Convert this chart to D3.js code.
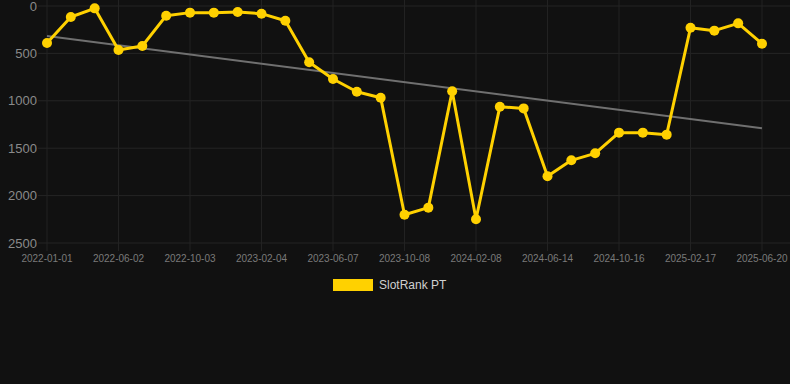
<!DOCTYPE html>
<html><head><meta charset="utf-8">
<script src="https://cdn.jsdelivr.net/npm/d3@7"></script>
<style>html,body{margin:0;padding:0;background:#111111;}svg{display:block;}</style>
</head><body><svg id="c" width="790" height="384"></svg>
<script>
const categories = ["2022-01-01","2022-02-20","2022-04-12","2022-06-02","2022-07-13","2022-08-23","2022-10-03","2022-11-12","2022-12-24","2023-02-04","2023-03-16","2023-04-26","2023-06-07","2023-07-18","2023-08-28","2023-10-08","2023-11-18","2023-12-29","2024-02-08","2024-03-22","2024-05-03","2024-06-14","2024-07-25","2024-09-04","2024-10-16","2024-11-26","2025-01-06","2025-02-17","2025-03-30","2025-05-10","2025-06-20"];
const rankValues = [390,116,25,464,422,102,70,70,63,81,155,594,770,904,967,2202,2127,900,2250,1062,1080,1796,1628,1554,1336,1336,1357,229,260,183,398];
const yTicks = [0,500,1000,1500,2000,2500];
const seriesName = "SlotRank PT";

(function () {
const svg = d3.select("#c");
const pl = 47, pr = 762, pt = 6, pb = 243;
const x = d3.scalePoint().domain(categories).range([pl, pr]);
const y = d3.scaleLinear().domain([0, 2500]).range([pt, pb]);

// grid
const g = svg.append("g");
g.selectAll("line.h").data(yTicks).join("line")
  .attr("x1", 38).attr("x2", 790).attr("y1", d => y(d)).attr("y2", d => y(d))
  .attr("stroke", "#252525").attr("stroke-width", 1);
const shown = categories.filter((d, i) => i % 3 === 0);
g.selectAll("line.v").data(shown).join("line")
  .attr("x1", d => x(d)).attr("x2", d => x(d)).attr("y1", 0).attr("y2", 251)
  .attr("stroke", "#222222").attr("stroke-width", 1);

// y labels
svg.append("g").selectAll("text").data(yTicks).join("text")
  .attr("x", 37).attr("y", d => y(d)).attr("dy", "0.35em")
  .attr("text-anchor", "end").attr("fill", "#8a8a8a")
  .style("font", "13px 'Liberation Sans', Arial, sans-serif").text(d => d);

// x labels
svg.append("g").selectAll("text").data(shown).join("text")
  .attr("x", d => x(d)).attr("y", 262)
  .attr("text-anchor", "middle").attr("fill", "#7a7a7a")
  .style("font", "10px 'Liberation Sans', Arial, sans-serif").text(d => d);

// trend (least squares)
const n = rankValues.length;
const mi = (n - 1) / 2, mv = d3.mean(rankValues);
let sxy = 0, sxx = 0;
rankValues.forEach((v, i) => { sxy += (i - mi) * (v - mv); sxx += (i - mi) * (i - mi); });
const slope = sxy / sxx, icpt = mv - slope * mi;
svg.append("line")
  .attr("x1", x(categories[0])).attr("y1", y(icpt))
  .attr("x2", x(categories[n - 1])).attr("y2", y(icpt + slope * (n - 1)))
  .attr("stroke", "#707070").attr("stroke-width", 2);

// series
const pts = categories.map((c, i) => [x(c), y(rankValues[i])]);
svg.append("path").attr("d", d3.line()(pts))
  .attr("fill", "none").attr("stroke", "#FFD100").attr("stroke-width", 3)
  .attr("stroke-linejoin", "round");
svg.append("g").selectAll("circle").data(pts).join("circle")
  .attr("cx", d => d[0]).attr("cy", d => d[1]).attr("r", 5)
  .attr("fill", "#FFD100");

// legend
svg.append("rect").attr("x", 333).attr("y", 279).attr("width", 40).attr("height", 12).attr("fill", "#FFD100");
svg.append("text").attr("x", 379).attr("y", 285).attr("dy", "0.35em")
  .attr("fill", "#d0d0d0").style("font", "12px 'Liberation Sans', Arial, sans-serif").text(seriesName);
})();
</script></body></html>
